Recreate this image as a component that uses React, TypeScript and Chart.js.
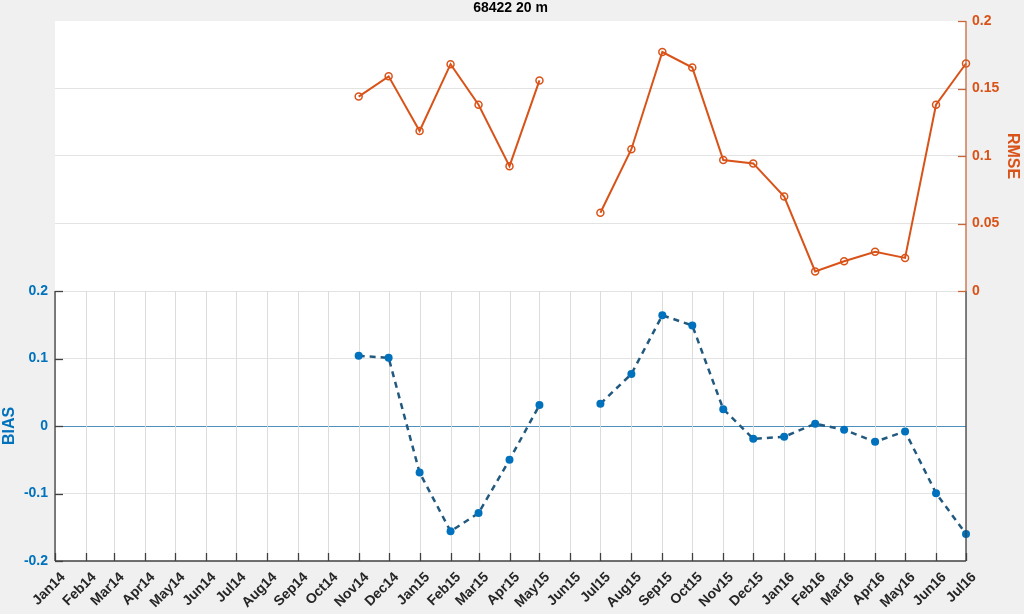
import React, { useEffect, useRef } from "react";
import { Chart, registerables } from "chart.js";

Chart.register(...registerables);

const MONTHS = [
  "Jan14", "Feb14", "Mar14", "Apr14", "May14", "Jun14", "Jul14", "Aug14", "Sep14", "Oct14", "Nov14", "Dec14",
  "Jan15", "Feb15", "Mar15", "Apr15", "May15", "Jun15", "Jul15", "Aug15", "Sep15", "Oct15", "Nov15", "Dec15",
  "Jan16", "Feb16", "Mar16", "Apr16", "May16", "Jun16", "Jul16",
];

const RMSE: (number | null)[] = [
  null, null, null, null, null, null, null, null, null, null,
  0.144, 0.159, 0.1185, 0.168, 0.138, 0.0925, 0.156, null, 0.058, 0.105,
  0.177, 0.1655, 0.097, 0.0945, 0.07, 0.0145, 0.022, 0.029, 0.0245, 0.138, 0.1685,
];

const BIAS: (number | null)[] = [
  null, null, null, null, null, null, null, null, null, null,
  0.104, 0.101, -0.069, -0.156, -0.129, -0.05, 0.031, null, 0.033, 0.077,
  0.164, 0.149, 0.025, -0.019, -0.016, 0.0035, -0.0055, -0.0235, -0.008, -0.0995, -0.16,
];

const BIAS_TICKS = [-0.2, -0.1, 0, 0.1, 0.2];
const RMSE_TICKS = [0, 0.05, 0.1, 0.15, 0.2];
const TITLE = "68422 20 m";

const BLUE = "#0072BD";
const ORANGE = "#D95319";
const FONT = "'Liberation Sans', Arial, Helvetica, sans-serif";

// day offset of each month start since 2014-01-01
const DAY0 = Date.UTC(2014, 0, 1);
const monthDay = (i: number) => (Date.UTC(2014, i, 1) - DAY0) / 86400000;
const DAYS = MONTHS.map((_, i) => monthDay(i));

export default function App() {
  const ref = useRef<HTMLCanvasElement | null>(null);

  useEffect(() => {
    if (!ref.current) return;
    const deco = {
      id: "deco",
      beforeDraw(chart: any) {
        const { ctx, chartArea: a } = chart;
        ctx.save();
        ctx.fillStyle = "#f0f0f0";
        ctx.fillRect(0, 0, chart.width, chart.height);
        ctx.fillStyle = "#ffffff";
        ctx.fillRect(a.left, a.top, a.right - a.left, a.bottom - a.top);
        ctx.restore();
      },
      beforeDatasetsDraw(chart: any) {
        const { ctx, chartArea: a, scales } = chart;
        const yTop = scales.yB.getPixelForValue(0.2);
        ctx.save();
        ctx.strokeStyle = "#dcdcdc";
        ctx.lineWidth = 1;
        DAYS.forEach((d) => {
          const x = Math.round(scales.x.getPixelForValue(d)) + 0.5;
          ctx.beginPath();
          ctx.moveTo(x, yTop);
          ctx.lineTo(x, a.bottom);
          ctx.stroke();
        });
        ctx.restore();
      },
      afterDatasetsDraw(chart: any) {
        const { ctx, chartArea: a, scales } = chart;
        const yMid = scales.yB.getPixelForValue(0.2);
        ctx.save();
        ctx.lineWidth = 1.3;
        // bottom axis + ticks
        ctx.strokeStyle = "#404040";
        ctx.beginPath();
        ctx.moveTo(a.left, a.bottom);
        ctx.lineTo(a.right, a.bottom);
        ctx.stroke();
        DAYS.forEach((d) => {
          const x = Math.round(scales.x.getPixelForValue(d)) + 0.5;
          ctx.beginPath();
          ctx.moveTo(x, a.bottom);
          ctx.lineTo(x, a.bottom - 8);
          ctx.stroke();
        });
        // left axis (BIAS)
        ctx.beginPath();
        ctx.moveTo(a.left, yMid);
        ctx.lineTo(a.left, a.bottom);
        ctx.stroke();
        BIAS_TICKS.forEach((v) => {
          const y = Math.round(scales.yB.getPixelForValue(v)) + 0.5;
          ctx.beginPath();
          ctx.moveTo(a.left, y);
          ctx.lineTo(a.left + 8, y);
          ctx.stroke();
        });
        // right axis lower part
        ctx.beginPath();
        ctx.moveTo(a.right, yMid);
        ctx.lineTo(a.right, a.bottom);
        ctx.stroke();
        // right axis (RMSE)
        ctx.strokeStyle = "#c8663a";
        ctx.beginPath();
        ctx.moveTo(a.right, a.top);
        ctx.lineTo(a.right, yMid);
        ctx.stroke();
        RMSE_TICKS.forEach((v) => {
          const y = Math.round(scales.yR.getPixelForValue(v)) + 0.5;
          ctx.beginPath();
          ctx.moveTo(a.right, y);
          ctx.lineTo(a.right - 8, y);
          ctx.stroke();
        });
        // title
        ctx.fillStyle = "#000000";
        ctx.font = `bold 14px ${FONT}`;
        ctx.textAlign = "center";
        ctx.textBaseline = "middle";
        ctx.fillText(TITLE, (a.left + a.right) / 2, 8);
        // axis titles
        ctx.font = `bold 16px ${FONT}`;
        ctx.fillStyle = BLUE;
        ctx.save();
        ctx.translate(10, scales.yB.getPixelForValue(0));
        ctx.rotate(-Math.PI / 2);
        ctx.fillText("BIAS", 0, 0);
        ctx.restore();
        ctx.fillStyle = ORANGE;
        ctx.save();
        ctx.translate(1012, scales.yR.getPixelForValue(0.1));
        ctx.rotate(Math.PI / 2);
        ctx.fillText("RMSE", 0, 0);
        ctx.restore();
        ctx.restore();
      },
    };

    const chart = new Chart(ref.current, {
      type: "line",
      data: {
        datasets: [
          {
            label: "RMSE",
            yAxisID: "yR",
            data: DAYS.map((d, i) => ({ x: d, y: RMSE[i] })),
            borderColor: ORANGE,
            borderWidth: 2,
            pointRadius: 3.5,
            pointBorderWidth: 1.5,
            pointBorderColor: ORANGE,
            pointBackgroundColor: "rgba(255,255,255,0)",
            spanGaps: false,
            clip: false,
          },
          {
            label: "BIAS",
            yAxisID: "yB",
            data: DAYS.map((d, i) => ({ x: d, y: BIAS[i] })),
            borderColor: "#22597f",
            borderWidth: 2.5,
            borderDash: [6, 5],
            pointRadius: 4,
            pointBorderWidth: 0,
            pointBorderColor: BLUE,
            pointBackgroundColor: BLUE,
            spanGaps: false,
            clip: false,
          },
        ] as any,
      },
      options: {
        responsive: false,
        animation: false,
        devicePixelRatio: 1,
        layout: { padding: { top: 21, left: 0, right: 0, bottom: 0 } },
        plugins: { legend: { display: false }, tooltip: { enabled: false }, title: { display: false } },
        scales: {
          x: {
            type: "linear",
            min: DAYS[0],
            max: DAYS[DAYS.length - 1],
            afterBuildTicks: (s: any) => {
              s.ticks = DAYS.map((d) => ({ value: d }));
            },
            afterFit: (s: any) => {
              s.height = 53;
            },
            grid: { display: false },
            border: { display: false },
            ticks: {
              autoSkip: false,
              maxRotation: 45,
              minRotation: 45,
              padding: 0,
              labelOffset: 8,
              color: "#262626",
              font: { family: FONT, size: 14, weight: "bold" },
              callback: (v: any) => {
                const i = DAYS.indexOf(Number(v));
                return i >= 0 ? MONTHS[i] : "";
              },
            },
          },
          yB: {
            type: "linear",
            position: "left",
            min: -0.2,
            max: 0.6,
            afterBuildTicks: (s: any) => {
              s.ticks = BIAS_TICKS.map((v) => ({ value: v }));
            },
            afterFit: (s: any) => {
              s.width = 55;
            },
            border: { display: false },
            grid: {
              drawTicks: false,
              lineWidth: 1,
              color: (c: any) => {
                const v = c.tick ? c.tick.value : null;
                if (v === 0) return "#4d8fbd";
                if (v === -0.2) return "rgba(0,0,0,0)";
                return "#e3e3e3";
              },
            },
            ticks: {
              padding: 7,
              color: BLUE,
              font: { family: FONT, size: 14, weight: "bold" },
              callback: (v: any) => String(Math.round(Number(v) * 100) / 100),
            },
          },
          yR: {
            type: "linear",
            position: "right",
            min: -0.2,
            max: 0.2,
            afterBuildTicks: (s: any) => {
              s.ticks = RMSE_TICKS.map((v) => ({ value: v }));
            },
            afterFit: (s: any) => {
              s.width = 58;
            },
            border: { display: false },
            grid: {
              drawTicks: false,
              lineWidth: 1,
              color: (c: any) => {
                const v = c.tick ? c.tick.value : null;
                if (v === 0 || v === 0.2) return "rgba(0,0,0,0)";
                return "#e3e3e3";
              },
            },
            ticks: {
              padding: 6,
              color: ORANGE,
              font: { family: FONT, size: 14, weight: "bold" },
              callback: (v: any) => String(Math.round(Number(v) * 100) / 100),
            },
          },
        } as any,
      },
      plugins: [deco],
    });
    return () => chart.destroy();
  }, []);

  return (
    <div style={{ position: "fixed", left: 0, top: 0, width: 1024, height: 614, background: "#f0f0f0" }}>
      <canvas ref={ref} width={1024} height={614} style={{ display: "block" }} />
    </div>
  );
}
